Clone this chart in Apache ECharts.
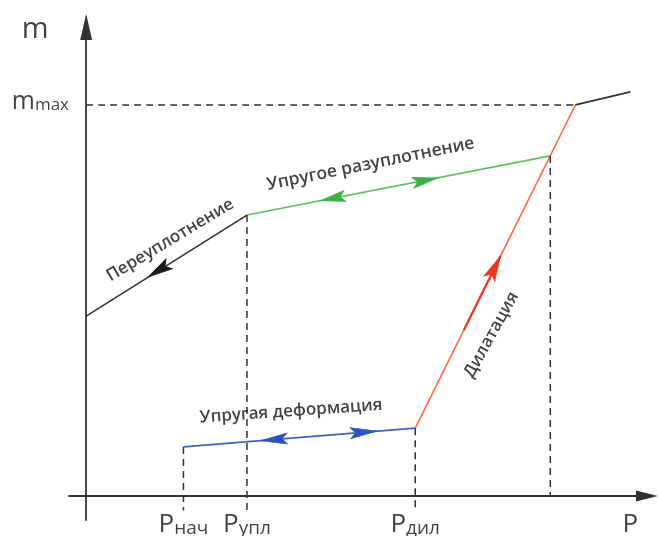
<!DOCTYPE html>
<html>
<head>
<meta charset="utf-8">
<script src="https://cdn.jsdelivr.net/npm/echarts@6/dist/echarts.min.js"></script>
<style>html,body{margin:0;padding:0;background:#fff;}#c{width:658px;height:536px;}</style>
</head>
<body>
<div id="c"></div>
<script>
// ---- data (schematic units: P along x, m along y) ----
const overconsolidation = [[0, 37.4], [28.1, 58.4]];
const elasticUnloading  = [[28.1, 58.4], [81.1, 70.7]];
const elasticDeformation = [[17.0, 10.2], [57.5, 14.1]];
const dilatation = [[57.5, 14.1], [85.5, 81.3]];
const postPeak = [[85.5, 81.3], [95.1, 84.0]];
const mMax = 81.3;
const pTicks = [17.0, 28.1, 57.5, 95.1];
const pTickSubs = ['нач', 'упл', 'дил', ''];
const dashedDrops = [[17.0, 10.2, -3], [28.1, 58.4, -3], [57.5, 14.1, -3], [81.1, 70.7, 0]];
// arrow heads: [from (direction), tip]
const blackArrows = [[[28.1, 58.4], [10.8, 45.5]]];
const greenArrows = [[[51.0, 63.7], [40.9, 61.4]], [[28.1, 58.4], [61.4, 66.1]]];
const blueArrows = [[[40.0, 12.4], [30.4, 11.5]], [[17.0, 10.2], [50.9, 13.5]]];
const redArrows = [[[57.5, 14.1], [72.4, 49.9]]];
const redShaft = [[66.0, 34.5], [72.4, 49.9]];
const curveLabels = [
  {name: 'Переуплотнение', x: 14.7, y: 53.2, rot: 31, weight: 600, size: 17},
  {name: 'Упругое разуплотнение', x: 49.7, y: 69.0, rot: 11.5, weight: 600, size: 17.5},
  {name: 'Упругая деформация', x: 35.8, y: 17.6, rot: 4, weight: 600, size: 17},
  {name: 'Дилатация', x: 70.8, y: 33.5, rot: 61, weight: 600, size: 17}
];

const FONT = '"Open Sans", "DejaVu Sans", sans-serif';
const INK = '#111111';
const ARROW = 'path://M0,0 L6,15 L0,12 L-6,15 Z';

function seg(data, color, width, type) {
  return {type: 'line', data: data, symbol: 'none', silent: true, animation: false,
    lineStyle: {color: color, width: width, type: type || 'solid'}, z: 3};
}

const series = [];
series.push(seg(overconsolidation, '#333333', 1.6));
series.push(seg(elasticUnloading, '#5cc25a', 1.6));
series.push(seg(elasticDeformation, '#3f62c4', 1.6));
series.push(seg(dilatation, '#ff6a42', 1.6));
series.push(seg(redShaft, '#f2361f', 2.2));
series.push(seg(postPeak, '#333333', 1.8));
series.push(seg([[0, mMax], [dilatation[1][0], mMax]], '#333333', 1.5, [7, 5]));
dashedDrops.forEach(d => series.push(seg([[d[0], d[1]], [d[0], d[2]]], '#333333', 1.5, [7, 5])));

// curve labels
series.push({type: 'scatter', clip: false, silent: true, animation: false, symbolSize: 0.1,
  itemStyle: {color: 'transparent'}, z: 6,
  data: curveLabels.map(l => ({value: [l.x, l.y], name: l.name,
    label: {show: true, position: 'inside', formatter: l.name, rotate: l.rot, fontSize: l.size,
      fontWeight: l.weight, fontFamily: FONT, color: INK}}))});

// tick labels under P axis
series.push({type: 'scatter', clip: false, silent: true, animation: false, symbolSize: 0.1,
  itemStyle: {color: 'transparent'}, z: 6,
  data: pTicks.map((p, i) => ({value: [p, -5.6],
    label: {show: true, position: 'inside', formatter: '{a|P}{b|' + pTickSubs[i] + '}',
      rich: {a: {fontSize: 26, fontFamily: FONT, color: INK, verticalAlign: 'bottom', lineHeight: 30},
             b: {fontSize: 19, fontFamily: FONT, color: INK, verticalAlign: 'bottom', lineHeight: 26}}}}))});

// axis names m, mmax
series.push({type: 'scatter', clip: false, silent: true, animation: false, symbolSize: 0.1,
  itemStyle: {color: 'transparent'}, z: 6,
  data: [
    {value: [-8.9, 96.9], label: {show: true, position: 'inside', formatter: 'm', fontSize: 29, fontFamily: FONT, color: INK}},
    {value: [-13.0, 82.3], label: {show: true, position: 'inside', align: 'left', formatter: '{a|m}{b|max}',
      rich: {a: {fontSize: 25, fontFamily: FONT, color: INK, verticalAlign: 'bottom', lineHeight: 28},
             b: {fontSize: 17, fontFamily: FONT, color: INK, verticalAlign: 'bottom', lineHeight: 24}}}}
  ]});

const chart = echarts.init(document.getElementById('c'), null, {renderer: 'canvas'});
const baseOption = {
  backgroundColor: '#ffffff',
  animation: false,
  grid: {left: 69, right: 11, top: 27, bottom: 16, containLabel: false},
  xAxis: {type: 'value', min: -3, max: 98,
    axisLine: {show: true, onZero: true, symbol: ['none', 'triangle'], symbolSize: [11, 22],
      lineStyle: {color: '#333333', width: 1.8}},
    axisTick: {show: false}, axisLabel: {show: false}, splitLine: {show: false}},
  yAxis: {type: 'value', min: -5, max: 97.5,
    axisLine: {show: true, onZero: true, symbol: ['none', 'triangle'], symbolSize: [12, 26],
      lineStyle: {color: '#333333', width: 1.8}},
    axisTick: {show: false}, axisLabel: {show: false}, splitLine: {show: false}},
  series: series
};
chart.setOption(baseOption);

// arrow heads placed & rotated through the chart's own scales
function arrowSeries(list, color, w, len) {
  const data = list.map(a => {
    const p0 = chart.convertToPixel({gridIndex: 0}, a[0]);
    const p1 = chart.convertToPixel({gridIndex: 0}, a[1]);
    const dx = p1[0] - p0[0], dy = p1[1] - p0[1];
    const n = Math.sqrt(dx * dx + dy * dy);
    const ux = dx / n, uy = dy / n;
    const c = chart.convertFromPixel({gridIndex: 0}, [p1[0] - ux * len / 2, p1[1] - uy * len / 2]);
    const ang = Math.atan2(-dy, dx) * 180 / Math.PI - 90;
    return {value: c, symbolRotate: ang};
  });
  return {type: 'scatter', clip: false, silent: true, animation: false, z: 5,
    symbol: ARROW, symbolSize: [w, len], symbolKeepAspect: false,
    itemStyle: {color: color, opacity: 1, borderColor: color, borderWidth: 0.8}, data: data};
}
chart.setOption({series: series.concat([
  arrowSeries(blackArrows, '#1a1a1a', 12, 25),
  arrowSeries(greenArrows, '#38b447', 11, 25),
  arrowSeries(blueArrows, '#2a54c4', 11, 27),
  arrowSeries(redArrows, '#f2321c', 12, 25)
])});
</script>
</body>
</html>
